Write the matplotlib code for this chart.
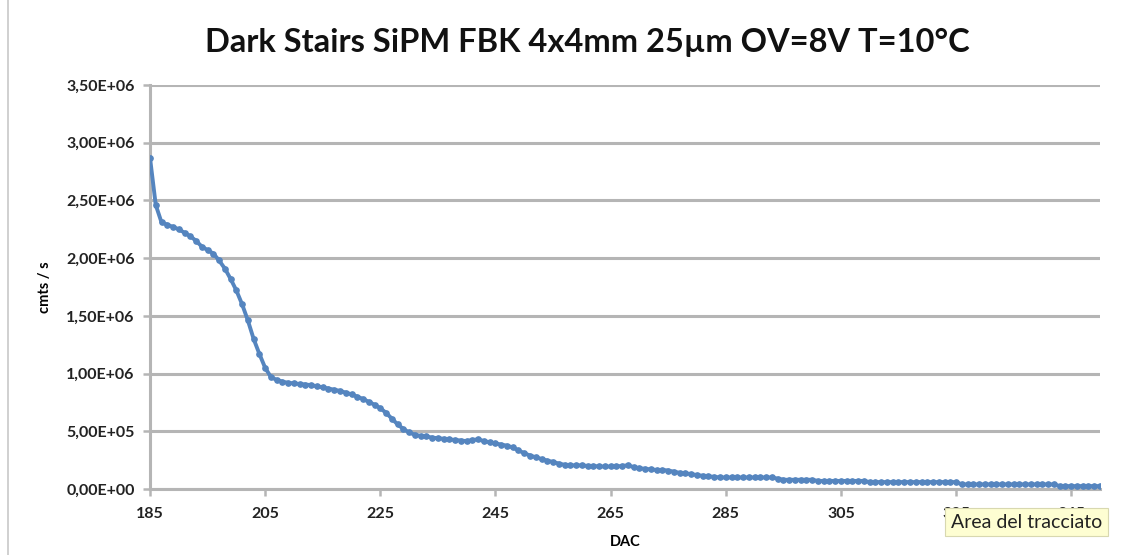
import matplotlib
matplotlib.use("Agg")
import matplotlib.pyplot as plt
from matplotlib.ticker import FuncFormatter
from matplotlib.lines import Line2D

# --- data ---
dac = list(range(185, 351))
counts_m = [
    2.87, 2.46, 2.31, 2.29, 2.27, 2.25, 2.22, 2.19, 2.15, 2.10,   # 185-194
    2.07, 2.04, 1.98, 1.91, 1.82, 1.72, 1.60, 1.46, 1.30, 1.17,   # 195-204
    1.05, 0.97, 0.945, 0.93, 0.92, 0.915, 0.91, 0.905, 0.90, 0.89,  # 205-214
    0.88, 0.87, 0.86, 0.85, 0.835, 0.82, 0.80, 0.78, 0.755, 0.73,  # 215-224
    0.70, 0.66, 0.61, 0.56, 0.52, 0.49, 0.47, 0.46, 0.455, 0.445,  # 225-234
    0.44, 0.435, 0.43, 0.425, 0.42, 0.415, 0.425, 0.43, 0.415, 0.405,  # 235-244
    0.395, 0.385, 0.375, 0.36, 0.335, 0.31, 0.29, 0.275, 0.26, 0.245,  # 245-254
    0.235, 0.22, 0.21, 0.205, 0.205, 0.205, 0.20, 0.20, 0.195, 0.195,  # 255-264
    0.195, 0.195, 0.20, 0.205, 0.19, 0.18, 0.175, 0.17, 0.165, 0.165,  # 265-274
    0.16, 0.15, 0.14, 0.135, 0.13, 0.12, 0.115, 0.11, 0.105, 0.10,  # 275-284
    0.10, 0.10, 0.10, 0.10, 0.10, 0.10, 0.10, 0.10, 0.10, 0.09,  # 285-294
    0.08, 0.08, 0.08, 0.08, 0.08, 0.08, 0.07, 0.07, 0.07, 0.07,  # 295-304
    0.07, 0.07, 0.07, 0.07, 0.07, 0.06, 0.06, 0.06, 0.06, 0.06,  # 305-314
    0.06, 0.06, 0.06, 0.06, 0.06, 0.06, 0.06, 0.06, 0.06, 0.06,  # 315-324
    0.06, 0.04, 0.04, 0.04, 0.04, 0.04, 0.04, 0.04, 0.04, 0.04,  # 325-334
    0.04, 0.04, 0.04, 0.04, 0.04, 0.04, 0.04, 0.04, 0.025, 0.025,  # 335-344
    0.025, 0.025, 0.025, 0.025, 0.025, 0.025,                    # 345-350
]
counts = [v * 1e6 for v in counts_m]
x_ticks = [185, 205, 225, 245, 265, 285, 305, 325, 345]
y_ticks = [0, 5e5, 1e6, 1.5e6, 2e6, 2.5e6, 3e6, 3.5e6]

TITLE = "Dark Stairs SiPM FBK 4x4mm 25\u00b5m OV=8V T=10\u00b0C"
LINE_COL = "#5585bf"
GRID_COL = "#b5b5b5"
FONT = "Lato"


def excel_sci(v, pos):
    # Excel style with decimal comma: 3,50E+06
    return f"{v:.2E}".replace(".", ",")


fig = plt.figure(figsize=(11.32, 5.55), dpi=100)
ax = fig.add_axes([150 / 1132, 66 / 555, 950 / 1132, 404 / 555])

ax.plot(dac, counts, color=LINE_COL, lw=2.8, marker="o", ms=3.8,
        mec=LINE_COL, mfc=LINE_COL, zorder=3)

ax.set_xlim(185, 350)
ax.set_ylim(0, 3.5e6)
ax.set_xticks(x_ticks)
ax.set_yticks(y_ticks)
ax.yaxis.set_major_formatter(FuncFormatter(excel_sci))
ax.grid(axis="y", color=GRID_COL, lw=2.2, zorder=0)

for side in ("top", "right"):
    ax.spines[side].set_visible(False)
for side in ("left", "bottom"):
    ax.spines[side].set_color(GRID_COL)
    ax.spines[side].set_linewidth(2.2)

ax.tick_params(axis="both", colors=GRID_COL, width=1.8, length=5,
               labelcolor="#222222", labelsize=11.5)
ax.tick_params(axis="x", pad=8)
ax.tick_params(axis="y", pad=6)
for lab in ax.get_xticklabels() + ax.get_yticklabels():
    lab.set_fontfamily(FONT)
    lab.set_fontweight("bold")

ax.set_xlabel("DAC", fontsize=10.5, fontweight="bold", family=FONT, labelpad=10)
ax.set_ylabel("cmts / s", fontsize=10.5, fontweight="bold", family=FONT, labelpad=10)

fig.text(587 / 1132, 1 - 42 / 555, TITLE, ha="center", va="center",
         fontsize=23.5, fontweight="bold", family=FONT, color="#111111")

# thin window border on the left edge
fig.add_artist(Line2D([8 / 1132, 8 / 1132], [0, 1], color="#c8c8c8", lw=1.2))

# hover tooltip
fig.text(951 / 1132, 1 - 522 / 555, "Area del tracciato", ha="left", va="center",
         fontsize=14, family=FONT, color="#222222", zorder=10,
         bbox=dict(boxstyle="square,pad=0.3", fc="#fefed2", ec="#d8d8b0", lw=0.8))

fig.savefig("out.png", dpi=100)
